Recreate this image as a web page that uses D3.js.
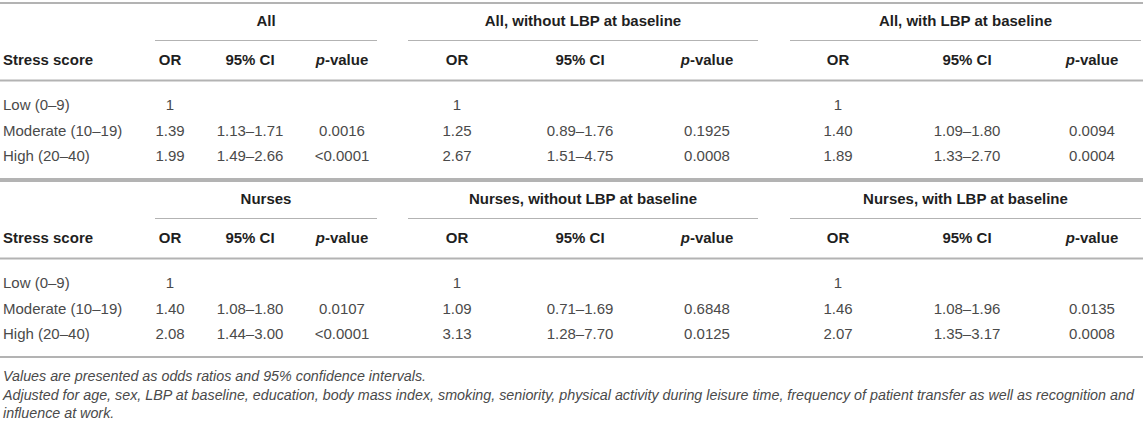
<!DOCTYPE html>
<html>
<head>
<meta charset="utf-8">
<script src="https://cdn.jsdelivr.net/npm/d3@7"></script>
<style>
  body { margin: 0; background: #fff; }
  svg { display: block; font-family: "Liberation Sans", Arial, Helvetica, sans-serif; }
  .rule { stroke: #b3b3b3; }
  .head { fill: #1f1f1f; font-weight: bold; font-size: 15px; }
  .cell { fill: #4a4a4a; font-size: 15px; }
  .note { fill: #4a4a4a; font-size: 14.3px; font-style: italic; }
</style>
</head>
<body>
<div id="table"></div>
<script>

// data
var stressLevels = ['Low (0–9)', 'Moderate (10–19)', 'High (20–40)']
var groupsAll = ['All', 'All, without LBP at baseline', 'All, with LBP at baseline']
var groupsNurses = ['Nurses', 'Nurses, without LBP at baseline', 'Nurses, with LBP at baseline']

// odds ratios per group (rows: low, moderate, high)
var orAll = [['1', '1.39', '1.99'], ['1', '1.25', '2.67'], ['1', '1.40', '1.89']]
var ciAll = [['', '1.13–1.71', '1.49–2.66'], ['', '0.89–1.76', '1.51–4.75'], ['', '1.09–1.80', '1.33–2.70']]
var pAll = [['', '0.0016', '<0.0001'], ['', '0.1925', '0.0008'], ['', '0.0094', '0.0004']]

var orNurses = [['1', '1.40', '2.08'], ['1', '1.09', '3.13'], ['1', '1.46', '2.07']]
var ciNurses = [['', '1.08–1.80', '1.44–3.00'], ['', '0.71–1.69', '1.28–7.70'], ['', '1.08–1.96', '1.35–3.17']]
var pNurses = [['', '0.0107', '<0.0001'], ['', '0.6848', '0.0125'], ['', '0.0135', '0.0008']]

var notes = [
  'Values are presented as odds ratios and 95% confidence intervals.',
  'Adjusted for age, sex, LBP at baseline, education, body mass index, smoking, seniority, physical activity during leisure time, frequency of patient transfer as well as recognition and',
  'influence at work.'
]

function create_table() {

  var width = 1143
  var height = 421

  var svg = d3.select('div#table')
    .append('svg')
    .attr('width', width)
    .attr('height', height)

  // column centres per group
  var groupX = d3.scaleOrdinal().domain([0, 1, 2]).range([155, 408, 790])
  var groupEnd = d3.scaleOrdinal().domain([0, 1, 2]).range([377, 758, 1141])
  var colX = [
    d3.scaleOrdinal().domain(['or', 'ci', 'p']).range([170, 250, 342]),
    d3.scaleOrdinal().domain(['or', 'ci', 'p']).range([457, 580, 707]),
    d3.scaleOrdinal().domain(['or', 'ci', 'p']).range([838, 967, 1092])
  ]

  // rows inside a block
  var rowY = d3.scalePoint().domain(stressLevels).range([101.5, 153])

  function block(y0, groups, ors, cis, ps) {

    var g = svg.append('g').attr('transform', 'translate(0,' + y0 + ')')

    g.append('line').attr('class', 'rule')
      .attr('x1', 0).attr('x2', width).attr('y1', 0).attr('y2', 0)
      .attr('stroke-width', 2)

    g.selectAll('text.group').data(groups).enter()
      .append('text')
      .attr('class', 'head')
      .attr('x', function(d, i) { return (groupX(i) + groupEnd(i)) / 2 })
      .attr('y', 18)
      .attr('dy', '0.35em')
      .attr('text-anchor', 'middle')
      .text(function(d) { return d })

    g.selectAll('line.under').data(groups).enter()
      .append('line')
      .attr('class', 'rule')
      .attr('x1', function(d, i) { return groupX(i) })
      .attr('x2', function(d, i) { return groupEnd(i) })
      .attr('y1', 37.5).attr('y2', 37.5)
      .attr('stroke-width', 1)

    g.append('text').attr('class', 'head')
      .attr('x', 3).attr('y', 57).attr('dy', '0.35em')
      .text('Stress score')

    groups.forEach(function(grp, i) {
      g.append('text').attr('class', 'head')
        .attr('x', colX[i]('or')).attr('y', 57).attr('dy', '0.35em')
        .attr('text-anchor', 'middle').text('OR')
      g.append('text').attr('class', 'head')
        .attr('x', colX[i]('ci')).attr('y', 57).attr('dy', '0.35em')
        .attr('text-anchor', 'middle').text('95% CI')
      var pv = g.append('text').attr('class', 'head')
        .attr('x', colX[i]('p')).attr('y', 57).attr('dy', '0.35em')
        .attr('text-anchor', 'middle')
      pv.append('tspan').attr('font-style', 'italic').text('p')
      pv.append('tspan').text('-value')
    })

    g.append('line').attr('class', 'rule')
      .attr('x1', 0).attr('x2', width).attr('y1', 77.5).attr('y2', 77.5)
      .attr('stroke-width', 2)

    g.selectAll('text.label').data(stressLevels).enter()
      .append('text')
      .attr('class', 'cell')
      .attr('x', 3)
      .attr('y', function(d) { return rowY(d) })
      .attr('dy', '0.35em')
      .text(function(d) { return d })

    groups.forEach(function(grp, i) {
      [['or', ors[i]], ['ci', cis[i]], ['p', ps[i]]].forEach(function(c) {
        g.selectAll(null).data(c[1]).enter()
          .append('text')
          .attr('class', 'cell')
          .attr('x', colX[i](c[0]))
          .attr('y', function(d, r) { return rowY(stressLevels[r]) })
          .attr('dy', '0.35em')
          .attr('text-anchor', 'middle')
          .text(function(d) { return d })
      })
    })

    g.append('line').attr('class', 'rule')
      .attr('x1', 0).attr('x2', width).attr('y1', 176).attr('y2', 176)
      .attr('stroke-width', 2)
  }

  block(3, groupsAll, orAll, ciAll, pAll)
  block(181, groupsNurses, orNurses, ciNurses, pNurses)

  svg.selectAll('text.note').data(notes).enter()
    .append('text')
    .attr('class', 'note')
    .attr('x', 3)
    .attr('y', function(d, i) { return [376, 395, 413][i] })
    .attr('dy', '0.35em')
    .text(function(d) { return d })
}

create_table()
</script>
</body>
</html>
